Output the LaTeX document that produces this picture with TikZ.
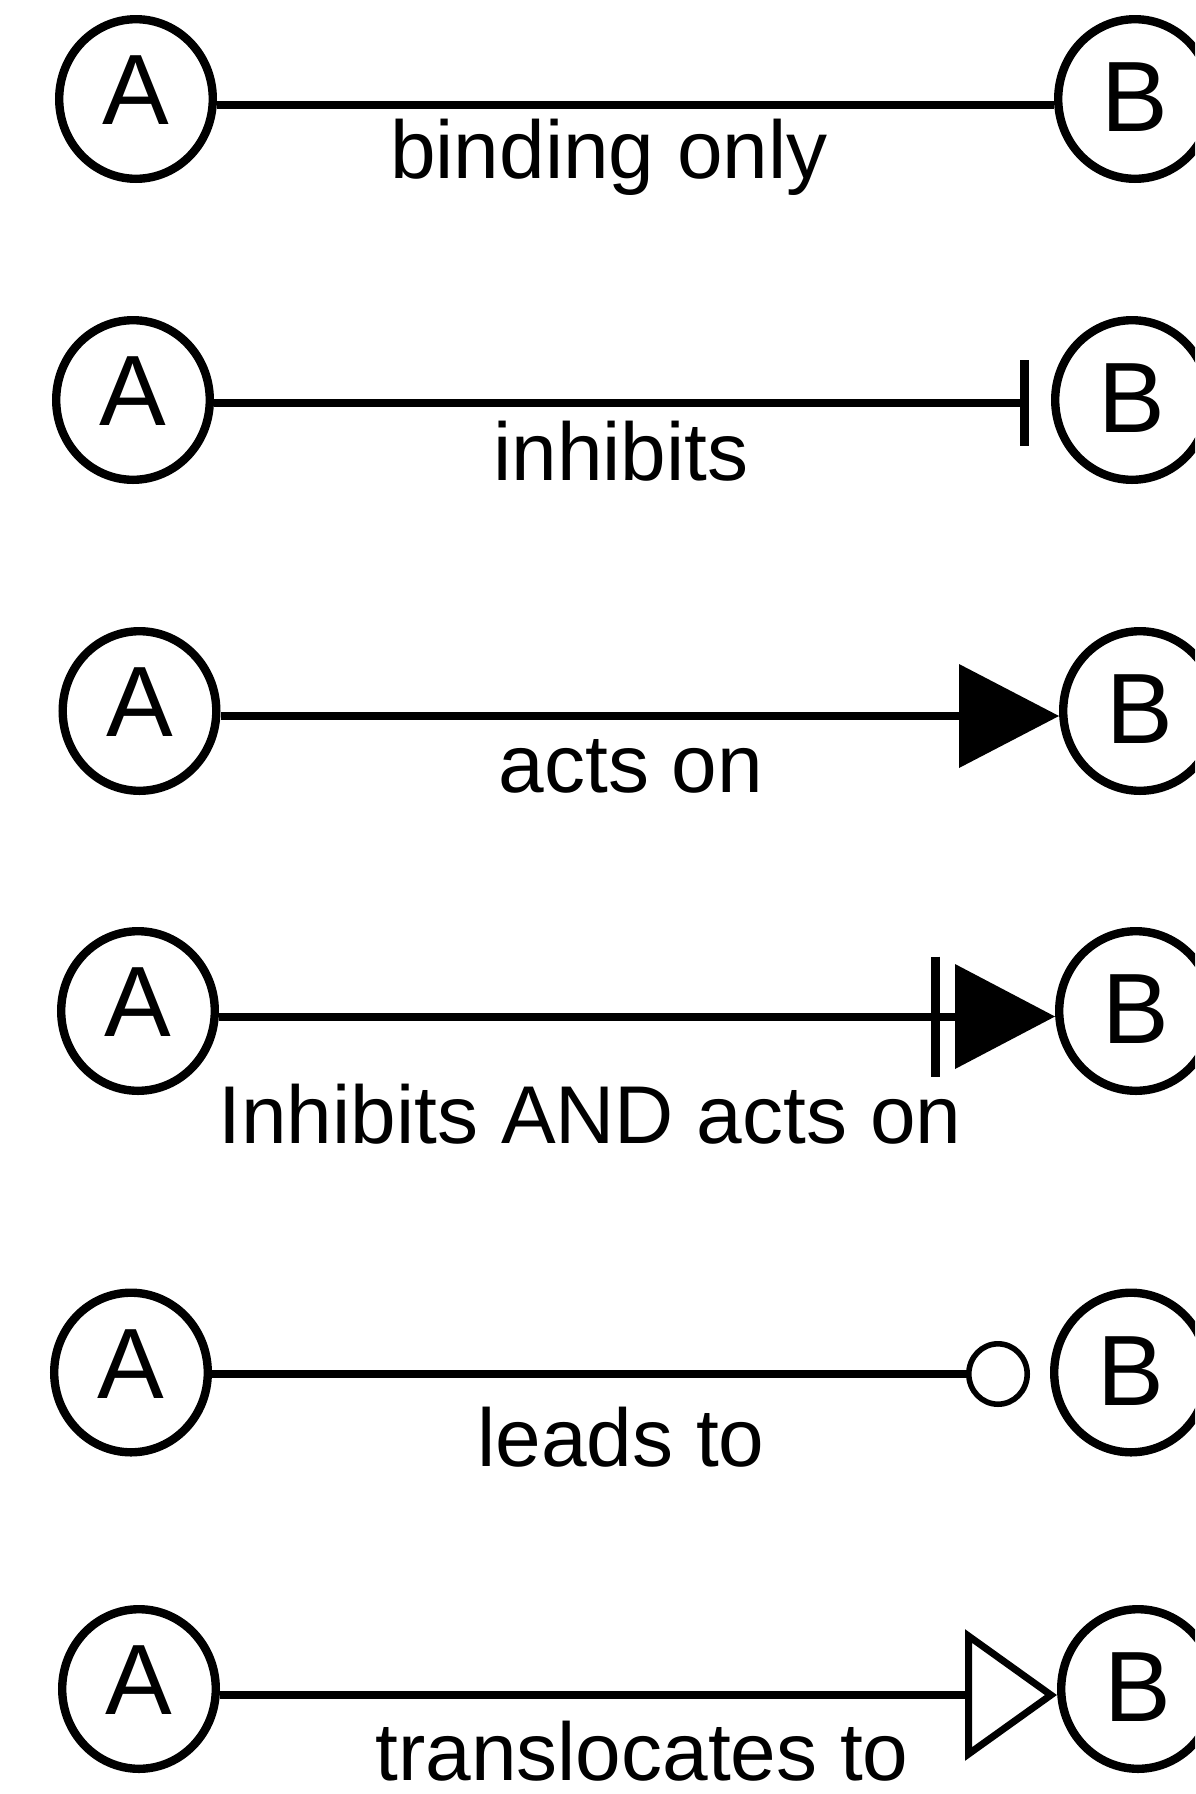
\documentclass[tikz,border=0pt]{standalone}
\usepackage{fontspec}
\setmainfont{Liberation Sans}
\usetikzlibrary{arrows.meta,shapes.geometric}
\begin{document}
\begin{tikzpicture}[x=0.5pt,y=-0.5pt,
  mol/.style={ellipse, draw, line width=4.2pt, minimum width=76.8pt, minimum height=79.8pt, inner sep=0pt, font=\fontsize{50}{50}\selectfont},
  molA/.style={mol, text height=35.8pt, text depth=10pt},
  molB/.style={mol, text height=35.8pt, text depth=3pt},
  conn/.style={line width=4pt},
  lab/.style={anchor=base, font=\fontsize{41}{41}\selectfont, inner sep=0pt}
]
\clip (0,0) rectangle (1195,1794);
\fill[white] (0,0) rectangle (1195,1794);

% row 1: binding only
\node[molA] (A1) at (136,99) {A};
\node[molB] (B1) at (1135,99) {B};
\node[lab] (L1) at (609,178) {binding only};
\draw[conn] ([yshift=-2.75pt]A1.east) -- ([yshift=-2.75pt]B1.west);

% row 2: inhibits
\node[molA] (A2) at (133,400) {A};
\node[molB] (B2) at (1132,400) {B};
\node[lab] (L2) at (621,480) {inhibits};
\draw[conn, -{Bar[width=43pt,line width=4.5pt]}, shorten >=11pt]
  ([yshift=-1.5pt]A2.east) -- ([yshift=-1.5pt]B2.west);

% row 3: acts on
\node[molA] (A3) at (139.5,711) {A};
\node[molB] (B3) at (1140,711) {B};
\node[lab] (L3) at (631,792.5) {acts on};
\draw[conn, -{Triangle[length=50pt,width=52pt,line width=0pt]}]
  ([yshift=-2.5pt]A3.east) -- ([yshift=-2.5pt]B3.west);

% row 4: inhibits AND acts on
\node[molA] (A4) at (138,1011) {A};
\node[molB] (B4) at (1136,1011) {B};
\node[lab] (L4) at (590,1143) {Inhibits AND acts on};
\draw[conn, -{Bar[width=60pt,line width=4.6pt,sep=7.5pt] Triangle[length=50pt,width=52.5pt,line width=0pt]}]
  ([yshift=-2.75pt]A4.east) -- ([yshift=-2.75pt]B4.west);

% row 5: leads to
\node[molA] (A5) at (131,1372.5) {A};
\node[molB] (B5) at (1131,1372.5) {B};
\node[lab] (L5) at (621,1466.5) {leads to};
\draw[conn, -{Circle[open,length=32pt,width=33pt,line width=2.8pt]}, shorten >=10pt]
  ([yshift=-0.75pt]A5.east) -- ([yshift=-0.75pt]B5.west);

% row 6: translocates to
\node[molA] (A6) at (139,1689) {A};
\node[molB] (B6) at (1138,1689) {B};
\node[lab, text depth=0pt] (L6) at (642,1780) {translocates to};
\draw[conn, -{Triangle[open,length=46pt,width=65pt,line width=3.5pt]}]
  ([yshift=-3pt]A6.east) -- ([yshift=-3pt]B6.west);
\end{tikzpicture}
\end{document}
